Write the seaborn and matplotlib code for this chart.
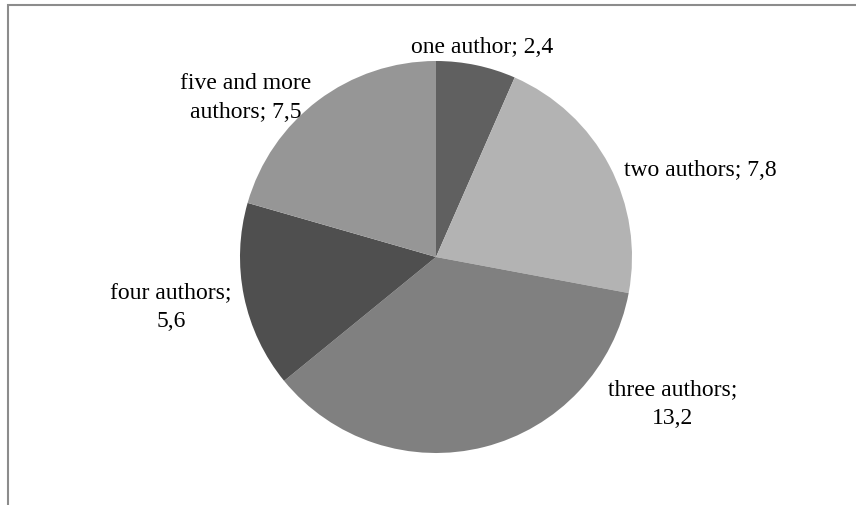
import matplotlib
matplotlib.use("Agg")
import matplotlib.pyplot as plt
import seaborn as sns
from matplotlib.patches import Rectangle

categories = ["one author", "two authors", "three authors", "four authors", "five and more authors"]
values = [2.4, 7.8, 13.2, 5.6, 7.5]
value_labels = ["2,4", "7,8", "13,2", "5,6", "7,5"]
label_texts = ["one author; 2,4", "two authors; 7,8", "three authors;\n13,2",
               "four authors;\n5,6", "five and more\nauthors; 7,5"]
colors = ["#606060", "#b3b3b3", "#808080", "#4f4f4f", "#969696"]

sns.set_theme(style="white")
plt.rcParams['font.family'] = ['Liberation Serif', 'DejaVu Serif']

W, H = 856, 506
fig = plt.figure(figsize=(W / 100, H / 100), dpi=100)
ax = fig.add_axes([0, 0, 1, 1])
ax.set_xlim(0, W)
ax.set_ylim(0, H)
ax.set_aspect("equal")
ax.axis("off")

cx, cy, r = 436, H - 258, 196
ax.pie(values, colors=colors, startangle=90, counterclock=False,
       radius=r, center=(cx, cy), frame=True,
       wedgeprops=dict(linewidth=0, antialiased=True))
ax.set_xlim(0, W)
ax.set_ylim(0, H)
ax.axis("off")

# label positions in pixel coords (x, y from top)
pos = [(482, 47), (700, 171), (673, 404), (171, 307), (246, 98)]
for txt, (px, py) in zip(label_texts, pos):
    ax.text(px, H - py, txt, ha="center", va="center", fontsize=17,
            color="black", linespacing=1.5)

# chart area frame (only top and left visible)
ax.add_patch(Rectangle((8.5, -20), W + 20, (H - 6) + 20, fill=False,
                       edgecolor="#8c8c8c", linewidth=1.5, clip_on=False))

fig.savefig("out.png", dpi=100)
